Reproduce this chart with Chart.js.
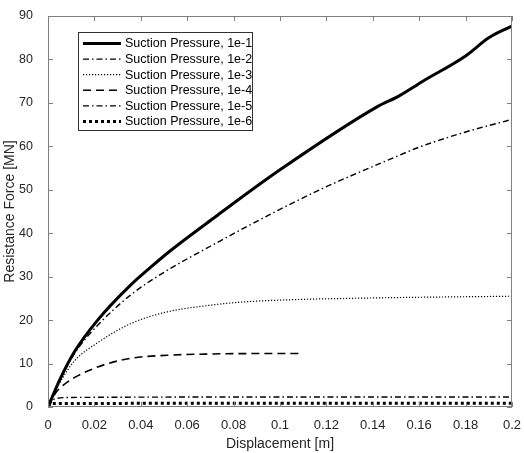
<!DOCTYPE html>
<html>
<head>
<meta charset="utf-8">
<script src="https://cdn.jsdelivr.net/npm/chart.js@4.4.1/dist/chart.umd.min.js"></script>
<style>
  html, body { margin: 0; padding: 0; background: #fff; }
  #wrap { width: 524px; height: 453px; }
</style>
</head>
<body>
<div id="wrap"><canvas id="chart" width="524" height="453"></canvas></div>
<script>
// values
const seriesLabels = [
    'Suction Pressure, 1e-1',
    'Suction Pressure, 1e-2',
    'Suction Pressure, 1e-3',
    'Suction Pressure, 1e-4',
    'Suction Pressure, 1e-5',
    'Suction Pressure, 1e-6'
];

const disp1 = [0, 0.005, 0.0114, 0.0214, 0.0357, 0.0437, 0.0514, 0.0722, 0.1, 0.1422, 0.151, 0.1616, 0.18, 0.19, 0.2];
const force1 = [0, 6.2, 12.7, 20, 28.1, 31.9, 35.4, 43.8, 54.6, 69.2, 71.5, 75, 80.8, 85, 87.7];

const disp2 = [0, 0.005, 0.0114, 0.0214, 0.0357, 0.05, 0.07, 0.1, 0.12, 0.1473, 0.16, 0.18, 0.2];
const force2 = [0, 6, 12.3, 18.8, 25.8, 31, 37, 45.5, 50.7, 57, 59.8, 63.3, 66.2];

const disp3 = [0, 0.005, 0.0114, 0.0214, 0.0357, 0.0514, 0.068, 0.082, 0.1, 0.14, 0.2];
const force3 = [0, 5.5, 10.6, 14.8, 19.2, 21.9, 23.3, 24.1, 24.6, 25.1, 25.5];

const disp4 = [0, 0.003, 0.007, 0.0214, 0.0357, 0.0514, 0.07, 0.09, 0.11];
const force4 = [0, 3, 5.2, 9.2, 11.2, 11.9, 12.2, 12.3, 12.3];

const disp5 = [0, 0.003, 0.01, 0.1, 0.2];
const force5 = [0, 1.9, 2.2, 2.3, 2.3];

const disp6 = [0, 0.002, 0.1, 0.2];
const force6 = [0, 0.8, 0.85, 0.85];

const xTicks = [0, 0.02, 0.04, 0.06, 0.08, 0.1, 0.12, 0.14, 0.16, 0.18, 0.2];
const yTicks = [0, 10, 20, 30, 40, 50, 60, 70, 80, 90];

const styles = [
    { width: 3, dash: [] },
    { width: 1.4, dash: [6, 3, 1.5, 3] },
    { width: 1.2, dash: [1.2, 1.8] },
    { width: 1.6, dash: [8, 5] },
    { width: 1.4, dash: [6, 3, 1.5, 3] },
    { width: 3, dash: [3, 3] }
];

function pairs(xs, ys) {
    return xs.map((x, i) => ({ x: x, y: ys[i] }));
}

const seriesData = [
    pairs(disp1, force1),
    pairs(disp2, force2),
    pairs(disp3, force3),
    pairs(disp4, force4),
    pairs(disp5, force5),
    pairs(disp6, force6)
];

const FONT = "'Liberation Sans', Arial, sans-serif";
const AXIS_GRAY = '#7f7f7f';
const TEXT = '#262626';

// MATLAB style box with inward ticks
const boxPlugin = {
    id: 'box',
    afterDatasetsDraw(chart) {
        const { ctx, chartArea: a, scales } = chart;
        ctx.save();
        ctx.strokeStyle = AXIS_GRAY;
        ctx.lineWidth = 1;
        ctx.strokeRect(a.left + 0.5, a.top + 0.5, a.right - a.left - 1, a.bottom - a.top - 1);
        ctx.beginPath();
        xTicks.forEach(v => {
            const px = Math.round(scales.x.getPixelForValue(v)) + 0.5;
            ctx.moveTo(px, a.bottom); ctx.lineTo(px, a.bottom - 5);
            ctx.moveTo(px, a.top); ctx.lineTo(px, a.top + 5);
        });
        yTicks.forEach(v => {
            const py = Math.round(scales.y.getPixelForValue(v)) + 0.5;
            ctx.moveTo(a.left, py); ctx.lineTo(a.left + 5, py);
            ctx.moveTo(a.right, py); ctx.lineTo(a.right - 5, py);
        });
        ctx.stroke();
        ctx.restore();
    }
};

// legend box inside the plot, top left
const legendPlugin = {
    id: 'insideLegend',
    afterDraw(chart) {
        const { ctx } = chart;
        const x0 = 78, y0 = 32, w = 174, h = 98, rowH = 15.6;
        ctx.save();
        ctx.fillStyle = '#fff';
        ctx.fillRect(x0, y0, w, h);
        ctx.strokeStyle = '#333';
        ctx.lineWidth = 1;
        ctx.strokeRect(x0 + 0.5, y0 + 0.5, w, h);
        ctx.font = '12.5px ' + FONT;
        ctx.textBaseline = 'middle';
        seriesLabels.forEach((label, i) => {
            const cy = y0 + 11.5 + i * rowH;
            ctx.strokeStyle = '#000';
            ctx.lineWidth = styles[i].width;
            ctx.setLineDash(styles[i].dash);
            ctx.beginPath();
            ctx.moveTo(83, cy);
            ctx.lineTo(121, cy);
            ctx.stroke();
            ctx.setLineDash([]);
            ctx.fillStyle = '#000';
            ctx.fillText(label, 125, cy + 0.5);
        });
        ctx.restore();
    }
};

new Chart(document.getElementById('chart'), {
    type: 'line',
    data: {
        datasets: seriesData.map((d, i) => ({
            label: seriesLabels[i],
            data: d,
            borderColor: '#000',
            borderWidth: styles[i].width,
            borderDash: styles[i].dash,
            pointRadius: 0,
            cubicInterpolationMode: 'monotone',
            fill: false
        }))
    },
    options: {
        responsive: false,
        animation: false,
        layout: { padding: { top: 16, right: 12, left: 0, bottom: 0 } },
        plugins: {
            legend: { display: false },
            tooltip: { enabled: false }
        },
        scales: {
            x: {
                type: 'linear',
                min: 0,
                max: 0.2,
                afterBuildTicks(scale) { scale.ticks = xTicks.map(v => ({ value: v })); },
                afterFit(scale) { scale.height = 46; },
                grid: { display: false },
                border: { display: false },
                ticks: {
                    color: TEXT,
                    font: { family: FONT, size: 13 },
                    padding: 3,
                    maxRotation: 0,
                    callback: v => String(+v.toFixed(2))
                },
                title: {
                    display: true,
                    text: 'Displacement [m]',
                    color: TEXT,
                    font: { family: FONT, size: 14 },
                    padding: { top: 1, bottom: 0 }
                }
            },
            y: {
                type: 'linear',
                min: 0,
                max: 90,
                afterBuildTicks(scale) { scale.ticks = yTicks.map(v => ({ value: v })); },
                afterFit(scale) { scale.width = 48; },
                grid: { display: false },
                border: { display: false },
                ticks: {
                    color: TEXT,
                    font: { family: FONT, size: 12.5 },
                    padding: 7
                },
                title: {
                    display: true,
                    text: 'Resistance Force [MN]',
                    color: TEXT,
                    font: { family: FONT, size: 14 },
                    padding: { top: 2, bottom: 0 }
                }
            }
        }
    },
    plugins: [boxPlugin, legendPlugin]
});
</script>
</body>
</html>
